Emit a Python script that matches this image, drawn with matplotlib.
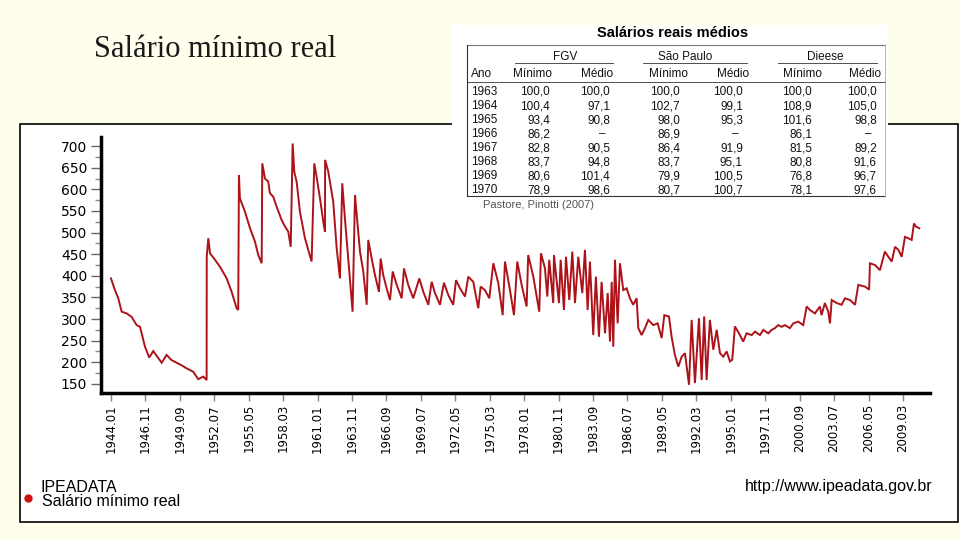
import matplotlib

matplotlib.use("Agg")
import matplotlib.pyplot as plt
from matplotlib.lines import Line2D
from matplotlib.patches import Rectangle

# IPEADATA - salario minimo real (R$), vertices
dates = [
    1944.00, 1944.33, 1944.60, 1944.88, 1945.29, 1945.70, 1946.11, 1946.39, 1946.80, 1947.15,
    1947.48, 1947.81, 1948.17, 1948.58, 1948.99, 1949.68, 1950.23, 1950.77, 1951.18, 1951.59,
    1951.87, 1951.88, 1952.01, 1952.15, 1952.56, 1952.97, 1953.52, 1953.93, 1954.34, 1954.47,
    1954.53, 1954.61, 1955.03, 1955.44, 1955.85, 1956.12, 1956.40, 1956.45, 1956.67, 1956.94,
    1957.08, 1957.35, 1957.63, 1958.04, 1958.32, 1958.59, 1958.79, 1958.95, 1959.08, 1959.28,
    1959.55, 1959.96, 1960.23, 1960.51, 1960.73, 1960.92, 1961.20, 1961.47, 1961.61, 1961.62,
    1961.88, 1962.29, 1962.57, 1962.84, 1963.03, 1963.25, 1963.66, 1963.88, 1964.08, 1964.22,
    1964.49, 1964.76, 1965.04, 1965.17, 1965.45, 1965.72, 1966.05, 1966.19, 1966.40, 1966.68,
    1966.96, 1967.18, 1967.51, 1967.92, 1968.11, 1968.46, 1968.87, 1969.37, 1969.70, 1970.11,
    1970.39, 1970.66, 1971.07, 1971.40, 1971.75, 1972.16, 1972.39, 1972.72, 1973.13, 1973.40,
    1973.81, 1974.22, 1974.42, 1974.77, 1975.13, 1975.46, 1975.87, 1976.23, 1976.42, 1976.83,
    1977.16, 1977.43, 1977.79, 1978.20, 1978.33, 1978.75, 1979.24, 1979.38, 1979.71, 1979.90,
    1980.06, 1980.39, 1980.45, 1980.86, 1981.00, 1981.27, 1981.44, 1981.71, 1981.96, 1982.18,
    1982.45, 1982.78, 1983.00, 1983.22, 1983.41, 1983.68, 1983.90, 1984.15, 1984.37, 1984.65,
    1984.87, 1985.06, 1985.20, 1985.33, 1985.47, 1985.69, 1985.88, 1986.15, 1986.43, 1986.70,
    1986.97, 1987.25, 1987.39, 1987.66, 1987.94, 1988.21, 1988.62, 1988.98, 1989.31, 1989.53,
    1989.91, 1990.13, 1990.40, 1990.68, 1990.96, 1991.23, 1991.56, 1991.78, 1992.05, 1992.38,
    1992.60, 1992.81, 1993.01, 1993.28, 1993.56, 1993.84, 1994.11, 1994.38, 1994.66, 1994.93,
    1995.12, 1995.34, 1995.75, 1996.02, 1996.30, 1996.72, 1996.99, 1997.40, 1997.67, 1998.08,
    1998.36, 1998.63, 1998.90, 1999.18, 1999.45, 1999.86, 2000.14, 2000.55, 2000.96, 2001.24,
    2001.51, 2001.92, 2002.33, 2002.47, 2002.74, 2003.02, 2003.16, 2003.30, 2003.71, 2004.12,
    2004.39, 2004.81, 2005.22, 2005.49, 2006.04, 2006.38, 2006.45, 2006.86, 2007.27, 2007.68,
    2007.96, 2008.24, 2008.51, 2008.79, 2009.06, 2009.33, 2009.60, 2009.88, 2010.07, 2010.23,
    2010.51,
]
values = [
    394, 367, 348, 317, 313, 305, 286, 282, 236, 211,
    226, 213, 199, 217, 205, 195, 186, 178, 161, 167,
    159, 444, 487, 452, 437, 421, 394, 363, 325, 321,
    633, 579, 548, 510, 479, 448, 429, 660, 625, 618,
    591, 583, 560, 529, 514, 502, 467, 706, 641, 617,
    548, 487, 460, 433, 660, 629, 579, 525, 502, 668,
    641, 571, 464, 394, 614, 533, 394, 317, 587, 541,
    456, 410, 333, 483, 440, 402, 363, 440, 402, 371,
    344, 410, 379, 348, 417, 379, 348, 394, 363, 333,
    386, 360, 333, 384, 356, 333, 390, 371, 352, 398,
    386, 325, 375, 367, 348, 429, 383, 309, 433, 367,
    309, 433, 379, 329, 448, 398, 317, 452, 417, 352,
    437, 337, 448, 337, 437, 321, 444, 344, 456, 337,
    444, 360, 460, 321, 433, 263, 398, 259, 386, 267,
    360, 248, 386, 236, 437, 290, 429, 367, 371, 348,
    333, 348, 279, 263, 279, 298, 286, 290, 256, 309,
    306, 259, 217, 190, 213, 221, 148, 298, 152, 302,
    159, 306, 159, 298, 229, 275, 221, 213, 225, 202,
    206, 283, 263, 248, 267, 263, 271, 263, 275, 267,
    275, 279, 286, 282, 286, 279, 290, 294, 286, 329,
    321, 313, 329, 309, 337, 317, 290, 344, 337, 333,
    348, 344, 333, 379, 375, 368, 429, 425, 413, 456,
    444, 433, 467, 460, 444, 490, 487, 483, 521, 514,
    510,
]

xtick_labels = [
    "1944.01", "1946.11", "1949.09", "1952.07", "1955.05", "1958.03", "1961.01", "1963.11",
    "1966.09", "1969.07", "1972.05", "1975.03", "1978.01", "1980.11", "1983.09", "1986.07",
    "1989.05", "1992.03", "1995.01", "1997.11", "2000.09", "2003.07", "2006.05", "2009.03",
]
yticks = [150, 200, 250, 300, 350, 400, 450, 500, 550, 600, 650, 700]

# Pastore, Pinotti (2007) - Salarios reais medios
table_years = ["1963", "1964", "1965", "1966", "1967", "1968", "1969", "1970"]
fgv_min = [100.0, 100.4, 93.4, 86.2, 82.8, 83.7, 80.6, 78.9]
fgv_med = [100.0, 97.1, 90.8, None, 90.5, 94.8, 101.4, 98.6]
sp_min = [100.0, 102.7, 98.0, 86.9, 86.4, 83.7, 79.9, 80.7]
sp_med = [100.0, 99.1, 95.3, None, 91.9, 95.1, 100.5, 100.7]
di_min = [100.0, 108.9, 101.6, 86.1, 81.5, 80.8, 76.8, 78.1]
di_med = [100.0, 105.0, 98.8, None, 89.2, 91.6, 96.7, 97.6]

W, H = 960, 540


def fx(x):
    return x / W


def fy(y):
    return 1 - y / H


def fmt(v):
    return "–" if v is None else f"{v:.1f}".replace(".", ",")


fig = plt.figure(figsize=(W / 100, H / 100), dpi=100, facecolor="#fffdeb")

# chart frame
fig.patches.append(Rectangle((fx(20), fy(522)), fx(958) - fx(20), fy(124) - fy(522),
                             transform=fig.transFigure, facecolor="white",
                             edgecolor="black", lw=1.2, zorder=-1))

fig.text(fx(94), fy(57), "Salário mínimo real", family="Liberation Serif", size=22,
         color="#1a1a1a", ha="left", va="baseline")

ax = fig.add_axes([fx(101), fy(393), fx(930) - fx(101), fy(137) - fy(393)])
ax.set_facecolor("none")
ax.plot(dates, values, color="#ad1219", lw=1.4, solid_joinstyle="miter")

ax.set_xlim(1943.18, 2011.39)
ax.set_ylim(129, 721)
xticks = [int(s[:4]) + (int(s[5:]) - 1) / 12 for s in xtick_labels]
ax.set_xticks(xticks)
ax.set_xticklabels(xtick_labels, rotation=90, fontsize=8.5, va="top")
ax.set_yticks(yticks)
ax.set_yticklabels([str(v) for v in yticks], fontsize=10)
ax.set_yticks([v + 25 for v in yticks[:-1]], minor=True)
ax.tick_params(axis="y", which="major", length=7, width=1, color="#666666", pad=3)
ax.tick_params(axis="y", which="minor", length=4, width=1, color="#888888")
ax.tick_params(axis="x", which="major", length=6, width=1, color="#888888", pad=2)
for side in ["top", "right"]:
    ax.spines[side].set_visible(False)
for side in ["left", "bottom"]:
    ax.spines[side].set_linewidth(2.5)

# legend / source lines under the chart
fig.text(fx(40), fy(487), "IPEADATA", family="Liberation Sans", size=11.5, va="center")
fig.text(fx(42), fy(502), "Salário mínimo real", family="Liberation Sans", size=11.5,
         va="center")
fig.text(fx(932), fy(487), "http://www.ipeadata.gov.br", family="Liberation Sans",
         size=11.5, va="center", ha="right")
fig.add_artist(Line2D([fx(28)], [fy(498)], marker="o", ms=5, color="#cc1111",
                      transform=fig.transFigure))

# inset table
fig.patches.append(Rectangle((fx(452), fy(212)), fx(888) - fx(452), fy(25) - fy(212),
                             transform=fig.transFigure, facecolor="white",
                             edgecolor="none", zorder=5))
narrow = ["Liberation Sans Narrow", "Liberation Sans"]
tkw = dict(family=narrow, size=8.5, zorder=6, va="center", color="#111111")
fig.text(fx(673), fy(33), "Salários reais médios", family=narrow, size=10.5,
         weight="bold", ha="center", va="center", zorder=6)


def hline(x0, x1, y, lw=0.8, color="#333333"):
    fig.add_artist(Line2D([fx(x0), fx(x1)], [fy(y), fy(y)], color=color, lw=lw,
                          transform=fig.transFigure, zorder=6))


hline(467, 885, 45, color="#777777")
hline(467, 885, 196)
hline(467, 885, 82, lw=0.6)
fig.add_artist(Line2D([fx(467), fx(467)], [fy(45), fy(196)], color="#333333", lw=0.8,
                      transform=fig.transFigure, zorder=6))
fig.add_artist(Line2D([fx(885), fx(885)], [fy(45), fy(196)], color="#aaaaaa", lw=0.6,
                      transform=fig.transFigure, zorder=6))
for x0, x1, cx, name in [(515, 613, 565, "FGV"), (643, 747, 685, "São Paulo"),
                         (778, 877, 825, "Dieese")]:
    hline(x0, x1, 63, lw=0.6)
    fig.text(fx(cx), fy(57), name, ha="center", **tkw)

fig.text(fx(471), fy(74), "Ano", ha="left", **tkw)
for cx, name in [(533, "Mínimo"), (597, "Médio"), (668, "Mínimo"), (733, "Médio"),
                 (802, "Mínimo"), (865, "Médio")]:
    fig.text(fx(cx), fy(74), name, ha="center", **tkw)

cols = [(550, 537, fgv_min), (610, 602, fgv_med), (680, 668, sp_min),
        (743, 735, sp_med), (812, 800, di_min), (877, 868, di_med)]
for i, yr in enumerate(table_years):
    ry = 92 + i * 14.05
    fig.text(fx(471), fy(ry), yr, ha="left", **tkw)
    for right, mid, col in cols:
        if col[i] is None:
            fig.text(fx(mid), fy(ry), fmt(col[i]), ha="center", **tkw)
        else:
            fig.text(fx(right), fy(ry), fmt(col[i]), ha="right", **tkw)

fig.text(fx(483), fy(205), "Pastore, Pinotti (2007)", family="Liberation Sans", size=8,
         color="#555555", va="center", zorder=6)

fig.savefig("out.png", dpi=100, facecolor=fig.get_facecolor())
